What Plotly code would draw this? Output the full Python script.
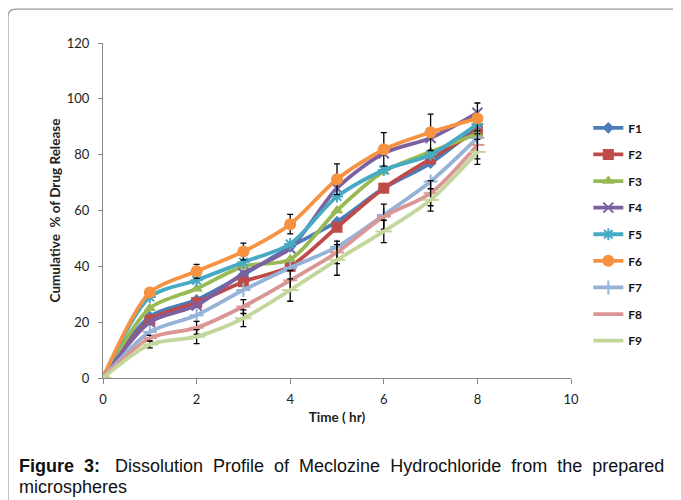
import plotly.graph_objects as go

time_hr = [0, 1, 2, 3, 4, 5, 6, 7, 8]
series_names = ["F1", "F2", "F3", "F4", "F5", "F6", "F7", "F8", "F9"]
F1 = [0, 22, 28, 37, 47, 56, 68, 77, 90]
F2 = [0, 20.8, 27, 34.5, 40, 54, 68, 78.5, 88.5]
F3 = [0, 25, 32, 40, 42.5, 60, 74, 81, 87.5]
F4 = [0, 20, 26, 37.5, 46.5, 68, 80.5, 86, 95]
F5 = [0, 29, 35, 41.5, 48, 65, 74.5, 80, 91]
F6 = [0, 30.6, 38.2, 45.3, 55.1, 71.2, 81.9, 88, 93]
F7 = [0, 16.5, 22.5, 31.5, 39.5, 47, 58.4, 70.4, 86]
F8 = [0, 14.3, 18, 25.6, 35, 45, 57.8, 66.2, 83.5]
F9 = [0, 12, 14.8, 21.4, 31.5, 42.3, 52.5, 63.8, 81]
F6_err = [0, 1.5, 2.5, 3, 3.5, 5.5, 6, 6.5, 5.5]
F8_err = [0, 1, 2.3, 2.5, 3.5, 4, 4.5, 4.5, 5]
F9_err = [0, 1.2, 2.5, 3, 4, 5.5, 4, 4, 4.5]

values = [F1, F2, F3, F4, F5, F6, F7, F8, F9]
errors = [None, None, None, None, None, F6_err, None, F8_err, F9_err]
colors = ["#4A7EBB", "#BE4B48", "#98B954", "#7D60A0", "#46AAC5",
          "#F69240", "#95B3D7", "#DA9694", "#C3D69B"]
symbols = ["diamond", "square", "triangle-up", "x-thin", "asterisk",
           "circle", "cross-thin", "line-ew", "line-ew"]
sizes = [9, 11, 11, 10, 10, 12, 10, 10, 12]

fig = go.Figure()
for name, vals, err, col, sym, sz in zip(series_names, values, errors, colors, symbols, sizes):
    thin = sym in ("x-thin", "asterisk", "cross-thin", "line-ew")
    fig.add_trace(go.Scatter(
        x=time_hr, y=vals, name="<b>" + name + "</b>", legendgroup=name,
        mode="lines+markers",
        line=dict(color=col, width=3.8, shape="spline", smoothing=0.8),
        marker=dict(symbol=sym, size=sz, color=col,
                    line=dict(color=col, width=2 if thin else 0)),
        error_y=dict(type="data", array=err, visible=err is not None,
                     color="black", thickness=1.3, width=3),
    ))

fig.add_shape(type="path", xref="paper", yref="paper",
              path="M -0.203,-0.5 L -0.203,1.08 Q -0.203,1.101 -0.185,1.101 L 1.5,1.101",
              line=dict(color="#9a9a9a", width=1.2))

fig.update_layout(
    width=673, height=492,
    margin=dict(l=95, r=110, t=35, b=122),
    paper_bgcolor="white", plot_bgcolor="white",
    font=dict(family="Lato, Liberation Sans, sans-serif", color="#222"),
    showlegend=True,
    legend=dict(x=1.037, y=0.79, xanchor="left", yanchor="top",
                font=dict(size=12, color="#111", family="Lato, sans-serif"),
                tracegroupgap=7.6, bgcolor="rgba(0,0,0,0)", itemwidth=30),
    xaxis=dict(range=[0, 10], tickvals=[0, 2, 4, 6, 8, 10], showgrid=False,
               zeroline=False, showline=True, linecolor="#868686", linewidth=1,
               ticks="outside", ticklen=5, tickcolor="#868686",
               tickfont=dict(size=13), ticklabelstandoff=4,
               title=dict(text="<b>Time ( hr)</b>", font=dict(size=13.5), standoff=6)),
    yaxis=dict(range=[0, 120], tickvals=[0, 20, 40, 60, 80, 100, 120], showgrid=False,
               zeroline=False, showline=True, linecolor="#868686", linewidth=1,
               ticks="outside", ticklen=4, tickcolor="#868686",
               tickfont=dict(size=13), ticklabelstandoff=6,
               title=dict(text="<b>Cumulative  % of Drug Release</b>", font=dict(size=13.5), standoff=3)),
)

cap_font = dict(family="Liberation Sans, Arial, sans-serif", size=18, color="#111")
sp = " &nbsp;"
line1 = ("<b>Figure" + sp + "3:</b>" + sp + "&nbsp;" +
         sp.join(["Dissolution", "Profile", "of", "Meclozine", "Hydrochloride",
                  "from", "the", "prepared"]))
fig.add_annotation(xref="paper", yref="paper", x=(17 - 103) / 468, y=(378 - 466) / 335,
                   xanchor="left", yanchor="middle", showarrow=False, align="left",
                   text=line1, font=cap_font)
fig.add_annotation(xref="paper", yref="paper", x=(17 - 103) / 468, y=(378 - 487) / 335,
                   xanchor="left", yanchor="middle", showarrow=False, align="left",
                   text="microspheres", font=cap_font)

fig.write_html("out.html")
